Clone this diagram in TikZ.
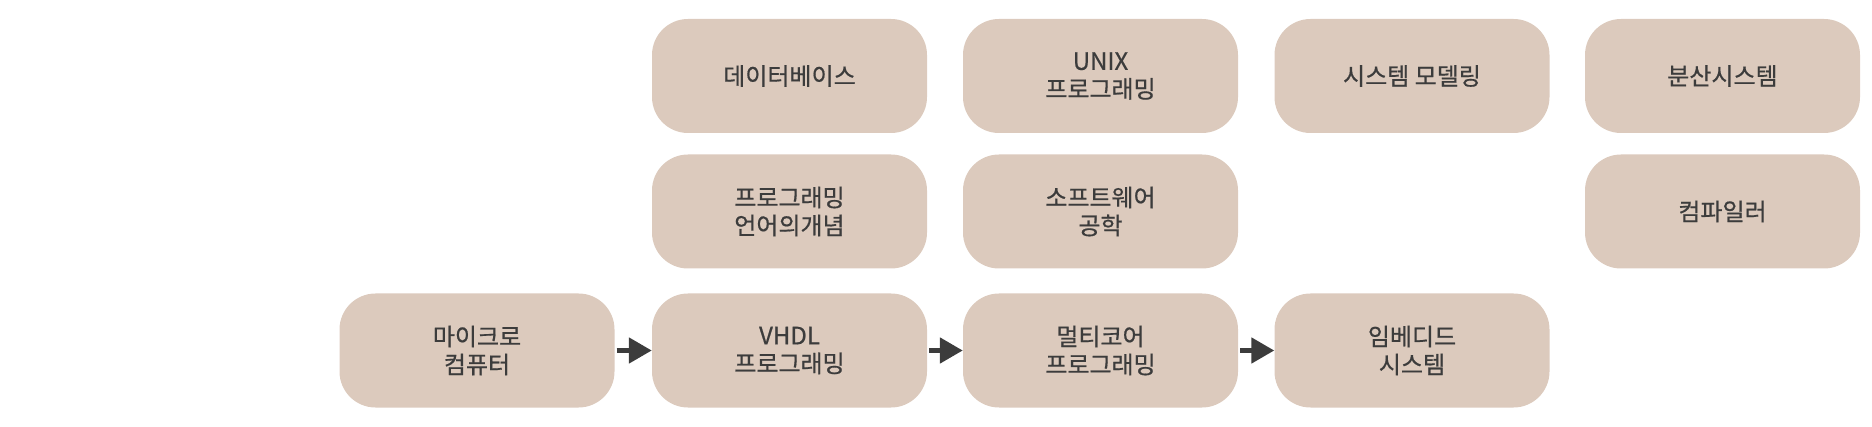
\documentclass[tikz,border=0pt]{standalone}
\usepackage{fontspec}
\setmainfont{Noto Sans CJK KR}[FakeBold=0.6]
\usepackage{tikz}
\usetikzlibrary{arrows.meta}
\definecolor{boxfill}{HTML}{DCCABD}
\definecolor{inkgray}{HTML}{3C3C3C}

\begin{document}
\begin{tikzpicture}[x=1pt,y=1pt]
		\useasboundingbox (0,0) rectangle (1872,426);
		\tikzstyle{subject}=[rounded corners=36pt,fill=boxfill,minimum width=275pt,minimum height=114pt,inner sep=0pt,align=center,text=inkgray,font=\fontsize{24pt}{28pt}\selectfont]
		\tikzstyle{next}=[draw=inkgray,line width=5pt,-{Triangle[length=23pt,width=25pt]}]
		% top row
		\node[subject] (s_1) at (789.5,350) {데이터베이스};
		\node[subject] (s_2) at (1100.5,350) {UNIX\\프로그래밍};
		\node[subject] (s_3) at (1412,350) {시스템 모델링};
		\node[subject] (s_4) at (1722.5,350) {분산시스템};
		% middle row
		\node[subject] (m_1) at (789.5,214.5) {프로그래밍\\언어의개념};
		\node[subject] (m_2) at (1100.5,214.5) {소프트웨어\\공학};
		\node[subject] (m_3) at (1722.5,214.5) {컴파일러};
		% bottom row
		\node[subject] (b_1) at (477,75.5) {마이크로\\컴퓨터};
		\node[subject] (b_2) at (789.5,75.5) {VHDL\\프로그래밍};
		\node[subject] (b_3) at (1100.5,75.5) {멀티코어\\프로그래밍};
		\node[subject] (b_4) at (1412,75.5) {임베디드\\시스템};
		\draw[next] ([xshift=2pt]b_1.east) -- (b_2.west);
		\draw[next] ([xshift=2pt]b_2.east) -- (b_3.west);
		\draw[next] ([xshift=2pt]b_3.east) -- (b_4.west);
	\end{tikzpicture}
\end{document}
